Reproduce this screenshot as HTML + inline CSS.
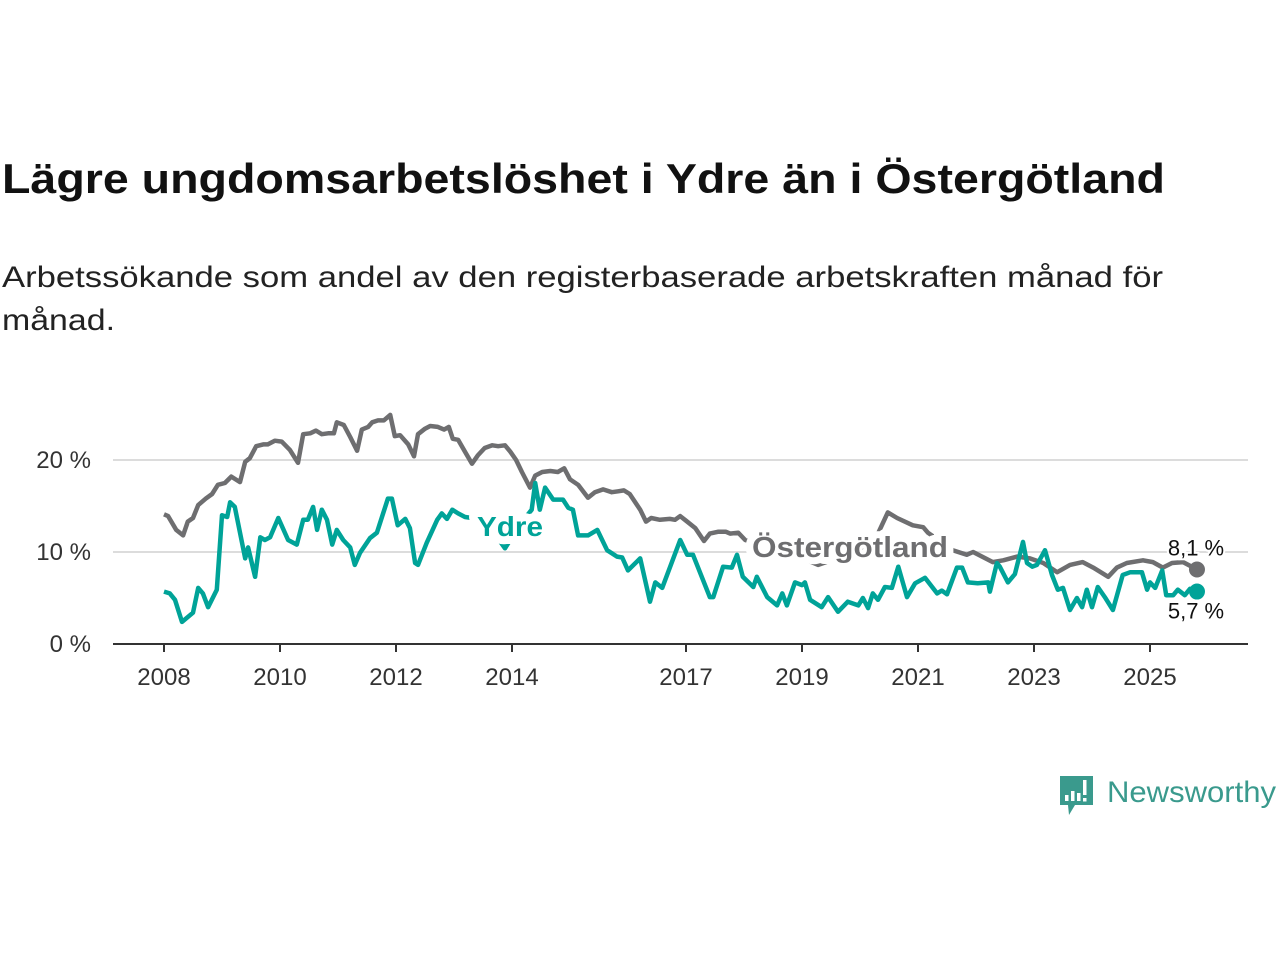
<!DOCTYPE html>
<html><head><meta charset="utf-8">
<style>
html,body{margin:0;padding:0;background:#fff;}
svg{display:block;font-family:"Liberation Sans",sans-serif;}
</style></head>
<body>
<svg id="chart" width="1280" height="960" viewBox="0 0 1280 960">
<text x="2" y="193" font-size="42" font-weight="bold" fill="#111" textLength="1163" lengthAdjust="spacingAndGlyphs">Lägre ungdomsarbetslöshet i Ydre än i Östergötland</text>
<text x="2" y="287" font-size="30" fill="#222" textLength="1161" lengthAdjust="spacingAndGlyphs">Arbetssökande som andel av den registerbaserade arbetskraften månad för</text>
<text x="2" y="330" font-size="30" fill="#222" textLength="113" lengthAdjust="spacingAndGlyphs">månad.</text>
<g id="grid"></g>
<g id="xaxis"></g>
<g id="yaxis"></g>
<g id="series"></g>
<g>
<path d="M1060 776 h33 v29 h-18 l-6 10 l-1 -10 h-8 z" fill="#3a9a8d"/>
<rect x="1065" y="795" width="3.5" height="6" fill="#fff"/>
<rect x="1071" y="791" width="3.5" height="10" fill="#fff"/>
<rect x="1077" y="793" width="3.5" height="8" fill="#fff"/>
<rect x="1083" y="780" width="3.5" height="15" fill="#fff"/>
<rect x="1083" y="798" width="3.5" height="3.5" fill="#fff"/>
<text x="1107" y="802" font-size="30" fill="#3a9a8d" textLength="169" lengthAdjust="spacingAndGlyphs">Newsworthy</text>
</g>
</svg>
<script>
const yTicks = [0, 10, 20];
const yTickLabels = ["0 %", "10 %", "20 %"];
const xTicks = [2008, 2010, 2012, 2014, 2017, 2019, 2021, 2023, 2025];
const ostDates = [2008.00,2008.07,2008.21,2008.33,2008.41,2008.50,2008.59,2008.72,2008.83,2008.93,2009.05,2009.16,2009.31,2009.40,2009.48,2009.59,2009.71,2009.79,2009.91,2010.03,2010.17,2010.31,2010.40,2010.52,2010.62,2010.72,2010.83,2010.93,2010.98,2011.10,2011.21,2011.33,2011.41,2011.52,2011.59,2011.69,2011.79,2011.90,2011.98,2012.07,2012.21,2012.31,2012.38,2012.50,2012.59,2012.72,2012.83,2012.91,2012.98,2013.07,2013.19,2013.31,2013.41,2013.53,2013.66,2013.76,2013.88,2013.97,2014.07,2014.17,2014.31,2014.40,2014.52,2014.66,2014.79,2014.90,2015.00,2015.14,2015.31,2015.43,2015.57,2015.72,2015.83,2015.93,2016.03,2016.21,2016.31,2016.40,2016.55,2016.72,2016.81,2016.90,2017.00,2017.16,2017.31,2017.41,2017.55,2017.69,2017.76,2017.90,2018.02,2018.28,2018.79,2019.28,2019.83,2020.17,2020.31,2020.48,2020.64,2020.91,2021.09,2021.17,2021.60,2021.84,2021.95,2022.29,2022.47,2022.71,2022.93,2023.16,2023.40,2023.62,2023.84,2024.02,2024.28,2024.43,2024.60,2024.88,2025.05,2025.22,2025.38,2025.57,2025.81];
const ostValues = [14.1,13.9,12.4,11.8,13.3,13.7,15.1,15.8,16.3,17.3,17.5,18.2,17.6,19.8,20.2,21.5,21.7,21.7,22.1,22.0,21.1,19.7,22.8,22.9,23.2,22.8,22.9,22.9,24.1,23.8,22.5,21.0,23.3,23.6,24.1,24.3,24.3,24.9,22.6,22.7,21.7,20.4,22.8,23.4,23.7,23.6,23.3,23.6,22.3,22.2,20.9,19.6,20.5,21.3,21.6,21.5,21.6,20.9,20.0,18.7,17.0,18.3,18.7,18.8,18.7,19.1,17.9,17.3,15.9,16.5,16.8,16.5,16.6,16.7,16.3,14.6,13.3,13.7,13.5,13.6,13.5,13.9,13.4,12.6,11.2,12.0,12.2,12.2,12.0,12.1,11.3,10.8,9.9,8.6,9.8,11.0,12.0,14.3,13.7,12.9,12.7,12.1,10.2,9.7,10.0,8.9,9.1,9.5,9.3,8.8,7.8,8.6,8.9,8.3,7.3,8.3,8.8,9.1,8.9,8.3,8.8,8.9,8.1];
const ydreDates = [2008.00,2008.10,2008.19,2008.31,2008.50,2008.59,2008.67,2008.76,2008.91,2009.00,2009.09,2009.14,2009.22,2009.40,2009.45,2009.57,2009.66,2009.74,2009.83,2009.97,2010.14,2010.29,2010.40,2010.48,2010.57,2010.64,2010.72,2010.81,2010.90,2010.98,2011.09,2011.21,2011.29,2011.38,2011.55,2011.67,2011.86,2011.93,2012.03,2012.16,2012.24,2012.33,2012.38,2012.53,2012.71,2012.79,2012.88,2012.97,2013.07,2013.19,2013.53,2013.88,2014.14,2014.34,2014.40,2014.48,2014.57,2014.71,2014.88,2014.97,2015.05,2015.14,2015.31,2015.47,2015.64,2015.81,2015.90,2016.00,2016.21,2016.38,2016.47,2016.59,2016.90,2017.02,2017.12,2017.41,2017.47,2017.64,2017.79,2017.88,2017.98,2018.16,2018.22,2018.40,2018.57,2018.66,2018.74,2018.88,2019.00,2019.05,2019.14,2019.34,2019.45,2019.62,2019.79,2019.97,2020.05,2020.14,2020.22,2020.31,2020.43,2020.55,2020.66,2020.81,2020.95,2021.12,2021.33,2021.41,2021.50,2021.67,2021.76,2021.86,2022.03,2022.21,2022.24,2022.36,2022.41,2022.55,2022.67,2022.81,2022.88,2022.97,2023.05,2023.19,2023.31,2023.41,2023.50,2023.62,2023.74,2023.83,2023.91,2024.00,2024.10,2024.22,2024.36,2024.53,2024.66,2024.86,2024.95,2025.00,2025.09,2025.21,2025.28,2025.40,2025.48,2025.60,2025.69,2025.81];
const ydreValues = [5.7,5.5,4.8,2.4,3.4,6.1,5.5,4.0,5.9,14.0,13.8,15.4,14.9,9.3,10.5,7.3,11.6,11.3,11.6,13.7,11.3,10.8,13.5,13.5,14.9,12.4,14.6,13.5,10.8,12.4,11.3,10.5,8.6,9.9,11.5,12.1,15.8,15.8,12.9,13.6,12.6,8.8,8.6,11.0,13.5,14.2,13.6,14.6,14.2,13.8,13.5,10.4,13.0,14.6,17.5,14.6,17.0,15.7,15.7,14.8,14.6,11.8,11.8,12.4,10.2,9.5,9.4,8.0,9.3,4.6,6.7,6.1,11.3,9.7,9.7,5.1,5.1,8.4,8.3,9.7,7.3,6.2,7.3,5.1,4.2,5.5,4.2,6.7,6.4,6.7,4.8,4.0,5.1,3.5,4.6,4.2,5.0,3.9,5.5,4.8,6.2,6.1,8.4,5.1,6.6,7.2,5.5,5.8,5.4,8.3,8.3,6.7,6.6,6.7,5.7,8.8,8.4,6.7,7.6,11.1,8.8,8.4,8.6,10.2,7.5,5.9,6.1,3.7,5.0,4.0,5.9,4.0,6.2,5.1,3.7,7.5,7.8,7.8,5.9,6.7,6.1,8.0,5.3,5.3,5.9,5.3,6.0,5.7];
const endLabels = ["8,1 %", "5,7 %"];

const NS = "http://www.w3.org/2000/svg";
function xs(t){ return 164 + (t - 2008) * 58; }
function ys(v){ return 644 - v * 9.2; }
function mk(tag, attrs, parent){ const e=document.createElementNS(NS,tag); for(const k in attrs) e.setAttribute(k,attrs[k]); parent.appendChild(e); return e; }

const grid=document.getElementById('grid'), xa=document.getElementById('xaxis'), ya=document.getElementById('yaxis'), ser=document.getElementById('series');
yTicks.forEach((v,i)=>{
  if(v>0){ const g=mk('line',{x1:113,x2:1248,y1:ys(v),y2:ys(v),stroke:'#dcdcdc','stroke-width':2},grid);
  
   }
  const t=mk('text',{x:91,y:ys(v)+8,'font-size':24,fill:'#333','text-anchor':'end'},ya);
  t.textContent=yTickLabels[i];
  
  
});
const ax=mk('line',{x1:113,x2:1248,y1:644,y2:644,stroke:'#333','stroke-width':2},xa);


xTicks.forEach(y=>{
  const tk=mk('line',{x1:xs(y),x2:xs(y),y1:644,y2:652,stroke:'#333','stroke-width':2},xa);
  
  
  const t=mk('text',{x:xs(y),y:685,'font-size':24,fill:'#333','text-anchor':'middle'},xa);
  t.textContent=y;
  
  
});
function pts(d,v){ return d.map((t,i)=>xs(t).toFixed(1)+','+ys(v[i]).toFixed(1)).join(' '); }
const lo=mk('polyline',{points:pts(ostDates,ostValues),fill:'none',stroke:'#6e6e70','stroke-width':4.5,'stroke-linejoin':'round'},ser);


const ly=mk('polyline',{points:pts(ydreDates,ydreValues),fill:'none',stroke:'#00a398','stroke-width':4.5,'stroke-linejoin':'round'},ser);


const ol=mk('text',{x:752,y:557,'font-size':29,'font-weight':'bold',fill:'#6e6e70',stroke:'#fff','stroke-width':14,'stroke-linejoin':'round','paint-order':'stroke',textLength:196,lengthAdjust:'spacingAndGlyphs'},ser);
ol.textContent='Östergötland';


const yl=mk('text',{x:477,y:536,'font-size':28,'font-weight':'bold',fill:'#00a398',stroke:'#fff','stroke-width':16,'stroke-linejoin':'round','paint-order':'stroke',textLength:66,lengthAdjust:'spacingAndGlyphs'},ser);
yl.textContent='Ydre';


const n1=ostDates.length-1, n2=ydreDates.length-1;
const d1=mk('circle',{cx:xs(ostDates[n1]),cy:ys(ostValues[n1]),r:8,fill:'#6e6e70'},ser);


const d2=mk('circle',{cx:xs(ydreDates[n2]),cy:ys(ydreValues[n2]),r:8,fill:'#00a398'},ser);


const e1=mk('text',{x:1196,y:ys(ostValues[n1])-14,'font-size':22,fill:'#111','text-anchor':'middle',stroke:'#fff','stroke-width':4,'paint-order':'stroke'},ser);
e1.textContent=endLabels[0];


const e2=mk('text',{x:1196,y:ys(ydreValues[n2])+27,'font-size':22,fill:'#111','text-anchor':'middle',stroke:'#fff','stroke-width':4,'paint-order':'stroke'},ser);
e2.textContent=endLabels[1];


</script>
</body></html>
